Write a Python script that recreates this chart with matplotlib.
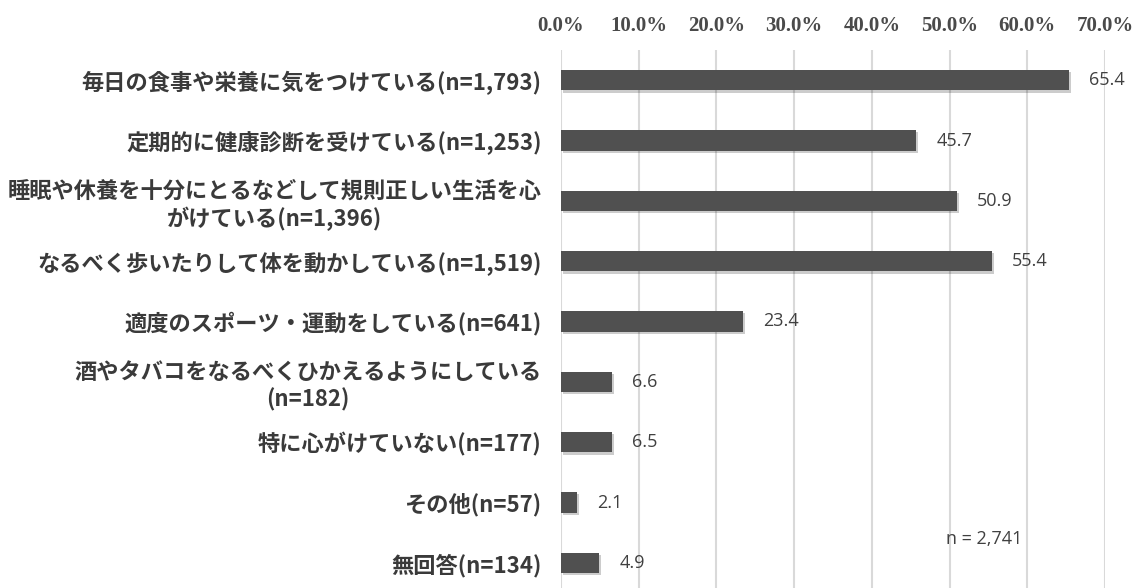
import matplotlib
matplotlib.use("Agg")
import matplotlib.pyplot as plt
import matplotlib.patheffects as pe

categories = [
    "毎日の食事や栄養に気をつけている(n=1,793)",
    "定期的に健康診断を受けている(n=1,253)",
    "睡眠や休養を十分にとるなどして規則正しい生活を心\nがけている(n=1,396)",
    "なるべく歩いたりして体を動かしている(n=1,519)",
    "適度のスポーツ・運動をしている(n=641)",
    "酒やタバコをなるべくひかえるようにしている\n(n=182)",
    "特に心がけていない(n=177)",
    "その他(n=57)",
    "無回答(n=134)",
]
values = [65.4, 45.7, 50.9, 55.4, 23.4, 6.6, 6.5, 2.1, 4.9]
xticks = [0, 10, 20, 30, 40, 50, 60, 70]
xtick_labels = ["0.0%", "10.0%", "20.0%", "30.0%", "40.0%", "50.0%", "60.0%", "70.0%"]
note = "n = 2,741"

W, H = 1137, 588
fig = plt.figure(figsize=(W / 100, H / 100), dpi=100)
left, right = 561 / W, 1105 / W
top, bottom = 50 / H, 593 / H
ax = fig.add_axes([left, 1 - bottom, right - left, bottom - top])

ypos = list(range(len(categories)))
bars = ax.barh(ypos, values, height=0.34, color="#505050", zorder=3)
for b in bars:
    b.set_path_effects([pe.SimplePatchShadow(offset=(1.5, -1.5), shadow_rgbFace="#000000", alpha=0.2), pe.Normal()])

ax.set_xlim(0, 70)
ax.set_ylim(len(categories) - 0.5, -0.5)
ax.set_xticks(xticks)
ax.set_xticklabels(xtick_labels, family=["Liberation Serif"], fontsize=15, fontweight="bold", color="#4a4a4a")
ax.xaxis.tick_top()
ax.tick_params(axis="x", length=0, pad=10)
ax.set_yticks(ypos)
ax.set_yticklabels(categories, family=["Noto Sans CJK JP", "DejaVu Sans"], fontsize=16,
                   fontweight="bold", color="#3a3a3a", multialignment="center")
ax.tick_params(axis="y", length=0, pad=14)
ax.grid(axis="x", color="#d9d9d9", linewidth=1.5, zorder=0)
for s in ax.spines.values():
    s.set_visible(False)

for y, v in zip(ypos, values):
    ax.text(v + 2.6, y, f"{v:.1f}", va="center", ha="left", fontsize=13,
            family=["Open Sans"], color="#404040")

ax.text(49.5, 7.6, note, va="center", ha="left", fontsize=13, family=["Open Sans"], color="#404040")

fig.savefig("out.png", dpi=100)
